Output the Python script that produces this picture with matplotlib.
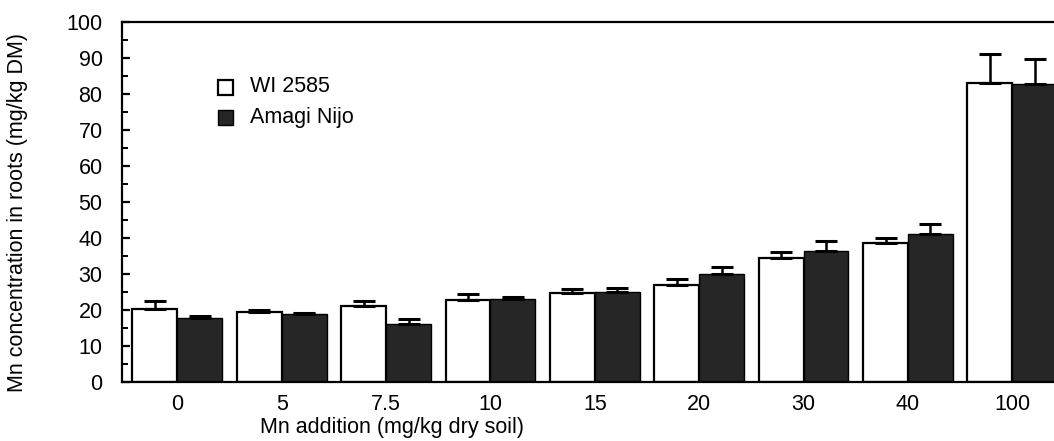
import matplotlib
matplotlib.use("Agg")
import matplotlib.pyplot as plt
from matplotlib.ticker import MultipleLocator
import numpy as np

plt.rcParams['font.family'] = ['Liberation Sans', 'DejaVu Sans']

categories = ["0", "5", "7.5", "10", "15", "20", "30", "40", "100"]
wi2585 = [20.3, 19.5, 21.0, 22.7, 24.6, 27.0, 34.5, 38.5, 83.0]
wi2585_err = [2.3, 0.5, 1.5, 1.8, 1.3, 1.5, 1.5, 1.5, 8.0]
amagi = [17.8, 18.8, 16.0, 23.0, 25.0, 30.0, 36.5, 41.0, 82.7]
amagi_err = [0.4, 0.5, 1.6, 0.6, 1.2, 2.0, 2.7, 3.0, 7.0]
series_names = ["WI 2585", "Amagi Nijo"]

fig = plt.figure(figsize=(10.54, 4.41), dpi=100)
W, H = 1054, 441
left, right, top, bottom = 122, 1075, 22, 382
ax = fig.add_axes([left / W, 1 - bottom / H, (right - left) / W, (bottom - top) / H])

x = np.arange(len(categories))
bw = 0.43
dark = "#262626"
fs = 15.5
ax.bar(x - bw / 2, wi2585, bw, color="white", edgecolor="black", linewidth=1.6, zorder=2)
ax.bar(x + bw / 2, amagi, bw, color=dark, edgecolor="black", linewidth=1.0, zorder=2)
ax.errorbar(x - bw / 2, wi2585, yerr=[np.zeros(len(x)), wi2585_err], fmt="none",
            ecolor="black", elinewidth=1.8, capsize=8, capthick=2.2, zorder=3)
ax.errorbar(x + bw / 2, amagi, yerr=[np.zeros(len(x)), amagi_err], fmt="none",
            ecolor="black", elinewidth=1.8, capsize=8, capthick=2.2, zorder=3)

ax.set_xlim(-0.53, 8.6)
ax.set_ylim(0, 100)
ax.yaxis.set_major_locator(MultipleLocator(10))
ax.yaxis.set_minor_locator(MultipleLocator(5))
ax.tick_params(axis="y", which="major", direction="in", length=6, width=1.6, labelsize=fs, pad=14)
ax.tick_params(axis="y", which="minor", direction="in", length=4, width=1.4)
ax.set_xticks(x)
ax.set_xticklabels(categories)
ax.tick_params(axis="x", length=0, labelsize=fs, pad=9)
for s in ax.spines.values():
    s.set_linewidth(1.6)

# legend
fig.patches.append(plt.Rectangle((218 / W, 1 - 95 / H), 15 / W, 15 / H, transform=fig.transFigure,
                                 facecolor="white", edgecolor="black", linewidth=1.6))
fig.patches.append(plt.Rectangle((218 / W, 1 - 125 / H), 15 / W, 15 / H, transform=fig.transFigure,
                                 facecolor=dark, edgecolor="black", linewidth=1.0))
fig.text(250 / W, 1 - 87 / H, series_names[0], fontsize=fs, va="center")
fig.text(250 / W, 1 - 117 / H, series_names[1], fontsize=fs, va="center")

fig.text(18 / W, 1 - 213 / H, "Mn concentration in roots (mg/kg DM)", rotation=90,
         fontsize=fs, ha="center", va="center")
fig.text(392 / W, 1 - 428 / H, "Mn addition (mg/kg dry soil)", fontsize=fs, ha="center", va="center")

fig.savefig("out.png", dpi=100)
